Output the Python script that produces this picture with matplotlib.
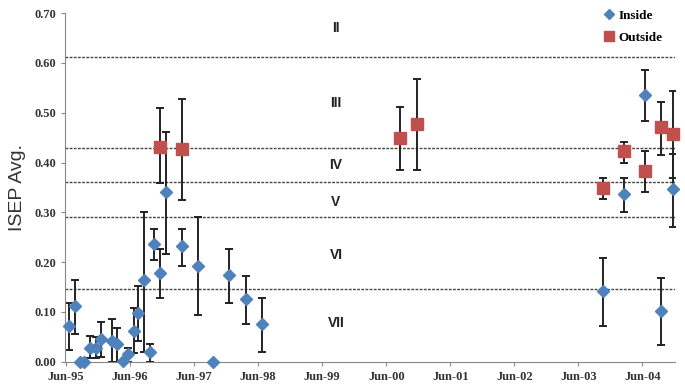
import numpy as np
import matplotlib.pyplot as plt

# sampling dates as decimal years
in_t = [1995.46, 1995.55, 1995.63, 1995.70, 1995.79, 1995.88, 1995.96, 1996.14,
        1996.21, 1996.31, 1996.38, 1996.47, 1996.54, 1996.63, 1996.72, 1996.79,
        1996.89, 1996.97, 1997.22, 1997.47, 1997.71, 1997.96, 1998.23, 1998.48,
        2003.80, 2004.13, 2004.46, 2004.71, 2004.89]
in_val = [0.072, 0.112, 0.0, 0.0, 0.028, 0.028, 0.045, 0.042,
          0.035, 0.001, 0.015, 0.062, 0.098, 0.164, 0.019, 0.236,
          0.179, 0.340, 0.232, 0.192, 0.0, 0.174, 0.125, 0.076,
          0.141, 0.336, 0.536, 0.102, 0.346]
in_hi = [0.118, 0.165, 0.0, 0.0, 0.051, 0.050, 0.080, 0.085,
         0.067, 0.001, 0.027, 0.107, 0.152, 0.300, 0.035, 0.266,
         0.226, 0.462, 0.266, 0.290, 0.0, 0.226, 0.173, 0.128,
         0.209, 0.369, 0.586, 0.169, 0.418]
in_lo = [0.023, 0.055, 0.0, 0.0, 0.008, 0.008, 0.010, 0.0,
         0.0, 0.001, 0.0, 0.017, 0.042, 0.020, 0.0, 0.204,
         0.127, 0.216, 0.192, 0.094, 0.0, 0.118, 0.075, 0.020,
         0.072, 0.300, 0.483, 0.034, 0.270]

out_t = [1996.88, 1997.22, 2000.63, 2000.89, 2003.80, 2004.13, 2004.46, 2004.71, 2004.89]
out_val = [0.432, 0.427, 0.449, 0.477, 0.349, 0.423, 0.383, 0.471, 0.457]
out_hi = [0.509, 0.527, 0.512, 0.568, 0.369, 0.442, 0.423, 0.521, 0.544]
out_lo = [0.358, 0.325, 0.384, 0.384, 0.327, 0.400, 0.341, 0.415, 0.368]

zone_bounds = [0.612, 0.430, 0.360, 0.290, 0.145]
zone_names = ['II', 'III', 'IV', 'V', 'VI', 'VII']
zone_y = [0.67, 0.52, 0.395, 0.32, 0.214, 0.078]

tick_years = [1995 + k for k in range(10)]
tick_labels = ['Jun-%02d' % (y % 100) for y in tick_years]

blue = '#4F81BD'
red = '#C0504D'

fig = plt.figure(figsize=(6.85, 3.86), dpi=100)
ax = fig.add_axes([0.095, 0.063, 0.89, 0.903])

for b in zone_bounds:
    ax.axhline(b, color='#444444', linestyle=(0, (2, 1)), linewidth=1.0, zorder=1)

serif = 'Liberation Serif'

def draw(t, v, hi, lo, marker, color, ms, label):
    v = np.array(v)
    err = [v - np.array(lo), np.array(hi) - v]
    ax.errorbar(t, v, yerr=err, fmt='none', ecolor='#222222', elinewidth=1.4,
                capsize=3, capthick=1.4, zorder=2)
    ax.plot(t, v, linestyle='none', marker=marker, color=color, markersize=ms,
            markeredgecolor=color, label=label, zorder=3, clip_on=False)

draw(in_t, in_val, in_hi, in_lo, 'D', blue, 6.5, 'Inside')
draw(out_t, out_val, out_hi, out_lo, 's', red, 8, 'Outside')

for name, y in zip(zone_names, zone_y):
    ax.text(1999.63, y, name, ha='center', va='center', fontsize=10,
            fontweight='bold', family='Liberation Sans', color='#222222')

ax.set_xlim(1995.40, 2004.92)
ax.set_ylim(0, 0.70)
ax.set_yticks(np.arange(0, 0.71, 0.1))
ax.set_yticklabels(['%.2f' % v for v in np.arange(0, 0.71, 0.1)],
                   family=serif, fontweight='bold', fontsize=9, color='#333333')
ax.set_xticks([y + 5 / 12 for y in tick_years])
ax.set_xticklabels(tick_labels, family=serif, fontweight='bold', fontsize=9,
                   color='#333333')
ax.tick_params(axis='both', length=3, color='#888888', direction='out')
for s in ['top', 'right']:
    ax.spines[s].set_visible(False)
for s in ['left', 'bottom']:
    ax.spines[s].set_color('#888888')

ax.set_ylabel('ISEP Avg.', family='Liberation Sans', fontsize=14, color='#333333',
              labelpad=6)

leg = ax.legend(loc='upper right', bbox_to_anchor=(1.0, 1.045), frameon=False,
                prop={'family': serif, 'weight': 'bold', 'size': 9.5},
                handletextpad=0.2, handlelength=1.0, labelspacing=0.75,
                markerscale=0.85)

fig.savefig('out.png', dpi=100)
